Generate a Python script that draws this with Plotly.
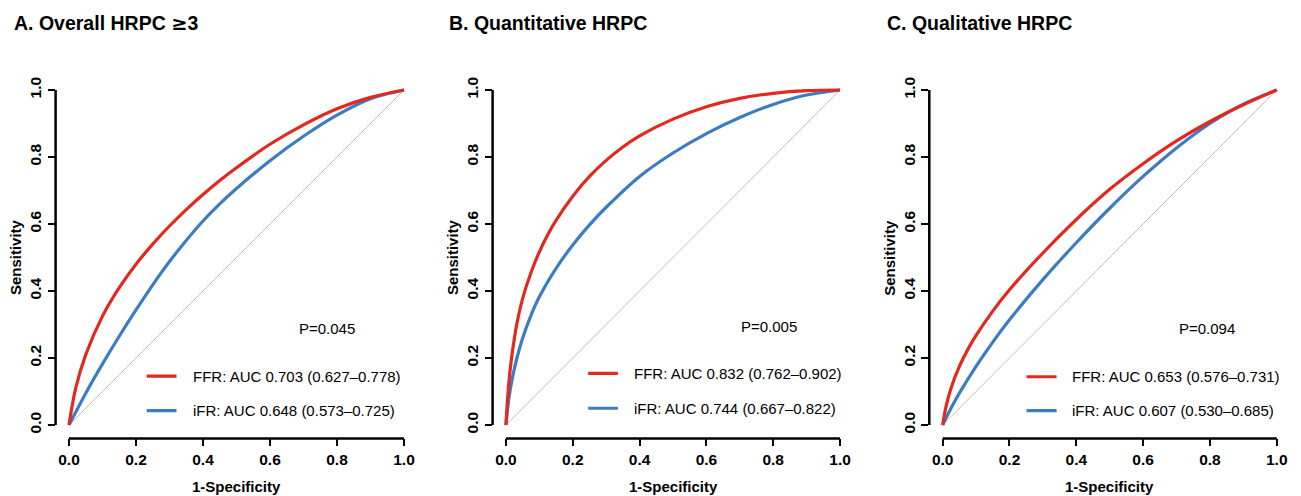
import plotly.graph_objects as go

# ---------------- data ----------------
panel_titles = ["A. Overall HRPC \u22653", "B. Quantitative HRPC", "C. Qualitative HRPC"]
p_texts = ["P=0.045", "P=0.005", "P=0.094"]
ffr_labels = ["FFR: AUC 0.703 (0.627\u20130.778)",
              "FFR: AUC 0.832 (0.762\u20130.902)",
              "FFR: AUC 0.653 (0.576\u20130.731)"]
ifr_labels = ["iFR: AUC 0.648 (0.573\u20130.725)",
              "iFR: AUC 0.744 (0.667\u20130.822)",
              "iFR: AUC 0.607 (0.530\u20130.685)"]

# Panel A
a_ffr_x = [0, 0.02, 0.05, 0.1, 0.15, 0.2, 0.25, 0.3, 0.35, 0.4, 0.45, 0.5, 0.6, 0.7, 0.8, 0.9, 1.0]
a_ffr_y = [0, 0.11, 0.21, 0.325, 0.41, 0.48, 0.54, 0.594, 0.643, 0.688, 0.73, 0.768, 0.838, 0.896, 0.944, 0.978, 1.0]
a_ifr_x = [0, 0.05, 0.1, 0.15, 0.2, 0.25, 0.3, 0.35, 0.4, 0.45, 0.5, 0.6, 0.7, 0.8, 0.9, 1.0]
a_ifr_y = [0, 0.095, 0.1825, 0.265, 0.3435, 0.4185, 0.488, 0.551, 0.609, 0.66, 0.706, 0.789, 0.862, 0.925, 0.974, 1.0]

# Panel B
b_ffr_x = [0, 0.005, 0.012, 0.02, 0.032, 0.05, 0.075, 0.1, 0.125, 0.15, 0.2, 0.25, 0.3, 0.35, 0.4, 0.5, 0.6, 0.7, 0.8, 0.9, 1.0]
b_ffr_y = [0, 0.08, 0.16, 0.224, 0.299, 0.378, 0.455, 0.517, 0.568, 0.611, 0.683, 0.742, 0.79, 0.83, 0.863, 0.913, 0.95, 0.975, 0.99, 0.998, 1.0]
b_ifr_x = [0, 0.005, 0.012, 0.02, 0.032, 0.05, 0.075, 0.1, 0.15, 0.2, 0.25, 0.3, 0.4, 0.5, 0.6, 0.7, 0.8, 0.9, 1.0]
b_ifr_y = [0, 0.05, 0.10, 0.144, 0.197, 0.26, 0.3275, 0.3825, 0.4675, 0.5375, 0.5975, 0.65, 0.742, 0.812, 0.87, 0.918, 0.957, 0.985, 1.0]

# Panel C
c_ffr_x = [0, 0.01, 0.025, 0.05, 0.075, 0.1, 0.15, 0.2, 0.3, 0.4, 0.5, 0.6, 0.7, 0.8, 0.9, 1.0]
c_ffr_y = [0, 0.055, 0.11, 0.175, 0.225, 0.2675, 0.34, 0.4035, 0.5135, 0.6135, 0.7035, 0.78, 0.848, 0.906, 0.956, 1.0]
c_ifr_x = [0, 0.025, 0.05, 0.1, 0.15, 0.2, 0.3, 0.4, 0.5, 0.6, 0.7, 0.8, 0.9, 1.0]
c_ifr_y = [0, 0.05, 0.095, 0.175, 0.2475, 0.314, 0.434, 0.544, 0.647, 0.742, 0.827, 0.90, 0.958, 1.0]

diag_x = [0, 1]
diag_y = [0, 1]

tick_vals = [0, 0.2, 0.4, 0.6, 0.8, 1.0]
tick_text = ["0.0", "0.2", "0.4", "0.6", "0.8", "1.0"]

x_title = "1-Specificity"
y_title = "Sensitivity"

# ---------------- styling / layout constants ----------------
RED = "#E2291F"
BLUE = "#3B7CC3"
GRAY = "#BDBDBD"
FONT = "Liberation Sans, Arial, sans-serif"
W, H = 1301, 496

x_domains = [[55.6 / W, 417.4 / W], [492.6 / W, 853.4 / W], [929.3 / W, 1290.1 / W]]
y_domain = [(H - 438.4) / H, (H - 76.6) / H]
title_left_px = [12, 447, 885]
legend_line_x = [[0.232, 0.321], [0.246, 0.335], [0.251, 0.341]]
legend_text_x = [0.363, 0.378, 0.381]
legend_y = [[0.146, 0.043], [0.154, 0.050], [0.144, 0.043]]
p_pos = [[0.769, 0.287], [0.786, 0.293], [0.790, 0.289]]

curves = [
    (a_ffr_x, a_ffr_y, a_ifr_x, a_ifr_y),
    (b_ffr_x, b_ffr_y, b_ifr_x, b_ifr_y),
    (c_ffr_x, c_ffr_y, c_ifr_x, c_ifr_y),
]


def title_html(t):
    # render the ≥ sign a bit wider, like the reference glyph
    t = t.replace("\u2265", "<span style=\"font-family:'DejaVu Sans'\">\u2265</span>")
    return "<b>" + t + "</b>"


fig = go.Figure()
shapes = []
annotations = []
layout_axes = {}

for i in range(3):
    sfx = "" if i == 0 else str(i + 1)
    xa, ya = "x" + sfx, "y" + sfx
    fx, fy, ix, iy = curves[i]

    fig.add_trace(go.Scatter(x=diag_x, y=diag_y, mode="lines", xaxis=xa, yaxis=ya,
                             line=dict(color=GRAY, width=1), showlegend=False, hoverinfo="skip"))
    fig.add_trace(go.Scatter(x=ix, y=iy, mode="lines", xaxis=xa, yaxis=ya,
                             line=dict(color=BLUE, width=3.2, shape="spline", smoothing=0.9),
                             showlegend=False))
    fig.add_trace(go.Scatter(x=fx, y=fy, mode="lines", xaxis=xa, yaxis=ya,
                             line=dict(color=RED, width=3.2, shape="spline", smoothing=0.9),
                             showlegend=False))

    common = dict(range=[-0.04, 1.04], showgrid=False, zeroline=False, showline=False,
                  ticks="outside", ticklen=7, tickwidth=2, tickcolor="black",
                  tickvals=tick_vals, ticktext=["<b>" + t + "</b>" for t in tick_text],
                  tickfont=dict(family=FONT, size=15.5, color="black"))
    layout_axes["xaxis" + sfx] = dict(domain=x_domains[i], anchor=ya, **common)
    layout_axes["yaxis" + sfx] = dict(domain=y_domain, anchor=xa, tickangle=-90, **common)

    # R-style axis lines spanning first to last tick
    shapes.append(dict(type="line", xref=xa, yref=ya + " domain", x0=0, x1=1, y0=0, y1=0,
                       line=dict(color="black", width=2.5)))
    shapes.append(dict(type="line", xref=xa + " domain", yref=ya, x0=0, x1=0, y0=0, y1=1,
                       line=dict(color="black", width=2.5)))

    # legend line segments
    lx0, lx1 = legend_line_x[i]
    shapes.append(dict(type="line", xref=xa, yref=ya, x0=lx0, x1=lx1,
                       y0=legend_y[i][0], y1=legend_y[i][0], line=dict(color=RED, width=3.2)))
    shapes.append(dict(type="line", xref=xa, yref=ya, x0=lx0, x1=lx1,
                       y0=legend_y[i][1], y1=legend_y[i][1], line=dict(color=BLUE, width=3.2)))

    annotations.append(dict(xref=xa, yref=ya, x=legend_text_x[i], y=legend_y[i][0],
                            text=ffr_labels[i], showarrow=False, xanchor="left", yanchor="middle",
                            font=dict(family=FONT, size=15, color="black")))
    annotations.append(dict(xref=xa, yref=ya, x=legend_text_x[i], y=legend_y[i][1],
                            text=ifr_labels[i], showarrow=False, xanchor="left", yanchor="middle",
                            font=dict(family=FONT, size=15, color="black")))
    annotations.append(dict(xref=xa, yref=ya, x=p_pos[i][0], y=p_pos[i][1],
                            text=p_texts[i], showarrow=False, xanchor="center", yanchor="middle",
                            font=dict(family=FONT, size=15, color="black")))

    # axis titles
    annotations.append(dict(xref=xa, yref="paper", x=0.5, y=(H - 486) / H,
                            text="<b>" + x_title + "</b>", showarrow=False,
                            xanchor="center", yanchor="middle",
                            font=dict(family=FONT, size=15, color="black")))
    annotations.append(dict(xref=xa + " domain", yref=ya, x=0, y=0.5, xshift=-40,
                            text="<b>" + y_title + "</b>", showarrow=False, textangle=-90,
                            xanchor="center", yanchor="middle",
                            font=dict(family=FONT, size=15, color="black")))

    # panel title
    annotations.append(dict(xref="paper", yref="paper", x=title_left_px[i] / W, y=(H - 23) / H,
                            text=title_html(panel_titles[i]), showarrow=False,
                            xanchor="left", yanchor="middle",
                            font=dict(family=FONT, size=19.5, color="black")))

fig.update_layout(
    width=W, height=H,
    margin=dict(l=0, r=0, t=0, b=0),
    paper_bgcolor="white", plot_bgcolor="white",
    shapes=shapes, annotations=annotations,
    showlegend=False,
    **layout_axes,
)

fig.write_html("out.html", config={"displayModeBar": False},
               post_script="document.body.style.margin='0';document.body.style.overflow='hidden';")
